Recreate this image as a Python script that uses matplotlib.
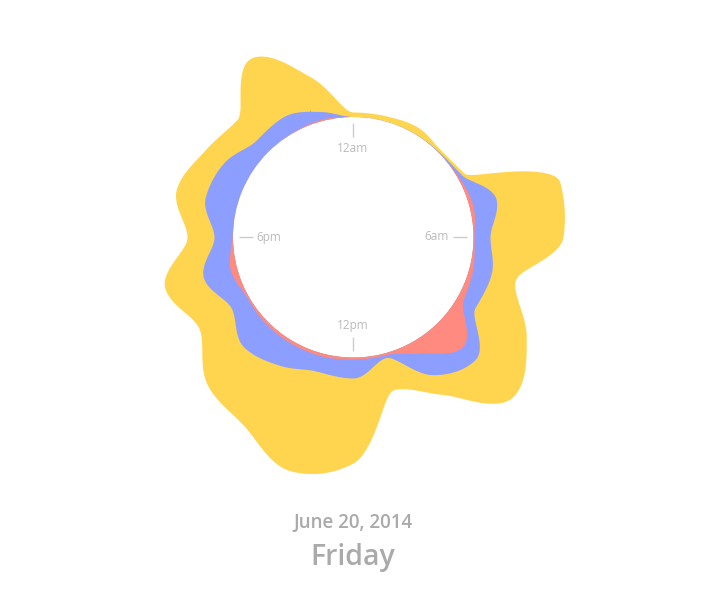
import numpy as np
import matplotlib.pyplot as plt

plt.rcParams['font.family'] = ['Open Sans', 'DejaVu Sans']

# hourly values, 12am .. 11pm (stacked outward from the inner circle)
hours = list(range(24))
red_vals = [0.5, 0, 0, 0, 1.5, 4, 1, 4, 7, 35, 14, 2,
            2, 3, 3, 3, 2, 7, 1, 0, 0, 0, 1, 2]
blue_vals = [0, 0.5, 0.5, 1, 3.5, 24, 16, 19, 14, 18, 25, 3,
             19, 16, 25, 32, 19, 28, 18, 33, 29, 17, 18, 8]
yellow_vals = [4.5, 5, 7, 2.5, 3, 66, 73, 25, 59, 53, 23, 33,
               85, 103, 70, 52, 38, 40, 27, 30, 23, 28, 67, 36]
colors = ['#FF8A80', '#8C9EFF', '#FFD54F']

hour_labels = {0: '12am', 6: '6am', 12: '12pm', 18: '6pm'}
date_text = 'June 20, 2014'
day_text = 'Friday'

INNER = 120  # radius of the empty centre


def smooth_closed(values, steps=24):
    # closed monotone cubic through the hourly values (no overshoot)
    y0 = np.asarray(values, dtype=float)
    y1 = np.roll(y0, -1)
    s_prev = y0 - np.roll(y0, 1)
    s_next = y1 - y0
    p = 0.5 * (s_prev + s_next)
    m = (np.sign(s_prev) + np.sign(s_next)) * np.minimum(
        np.minimum(np.abs(s_prev), np.abs(s_next)), 0.5 * np.abs(p))
    m1 = np.roll(m, -1)
    t = np.linspace(0, 1, steps, endpoint=False)[:, None]
    h00 = 2 * t ** 3 - 3 * t ** 2 + 1
    h10 = t ** 3 - 2 * t ** 2 + t
    h01 = -2 * t ** 3 + 3 * t ** 2
    h11 = t ** 3 - t ** 2
    out = h00 * y0 + h10 * m + h01 * y1 + h11 * m1
    return out.T.ravel()


def main():
    fig = plt.figure(figsize=(7.15, 5.91), dpi=100)
    ax = fig.add_axes([103 / 715, 104 / 591, 500 / 715, 500 / 591],
                      projection='polar')
    ax.set_theta_zero_location('N')
    ax.set_theta_direction(-1)
    ax.set_rorigin(-INNER)
    ax.set_ylim(0, 130)
    ax.axis('off')

    steps = 24
    theta = np.linspace(0, 2 * np.pi, len(hours) * steps, endpoint=False)
    theta = np.append(theta, 2 * np.pi)

    tops = np.cumsum([red_vals, blue_vals, yellow_vals], axis=0)
    curves = []
    for row in tops:
        c = smooth_closed(row, steps)
        curves.append(np.append(c, c[0]))
    curves = np.maximum.accumulate(np.clip(curves, 0, None), axis=0)

    # outer layer first, inner layers on top (no seams)
    for curve, col in reversed(list(zip(curves, colors))):
        ax.fill_between(theta, 0, curve, color=col, lw=0)

    for h, lab in hour_labels.items():
        ang = h / 24 * 2 * np.pi
        ax.plot([ang, ang], [-6, -20], color='#cccccc', lw=1,
                solid_capstyle='butt', clip_on=False)
        if h in (0, 12):
            ax.text(ang, -32, lab, ha='center', va='center',
                    fontsize=8.5, color='#bbbbbb')
        elif h == 6:
            ax.text(ang, -24, lab, ha='right', va='center',
                    fontsize=8.5, color='#bbbbbb')
        else:
            ax.text(ang, -23, lab, ha='left', va='center',
                    fontsize=8.5, color='#bbbbbb')

    fig.text(353 / 715, (591 - 528) / 591, date_text, ha='center',
             va='baseline', fontsize=13.5, color='#aaaaaa',
             fontweight='semibold')
    fig.text(353 / 715, (591 - 565) / 591, day_text, ha='center',
             va='baseline', fontsize=20.5, color='#aaaaaa',
             fontweight='semibold')

    fig.savefig('out.png', dpi=100, facecolor='white')
    return 0


if __name__ == '__main__':
    main()
